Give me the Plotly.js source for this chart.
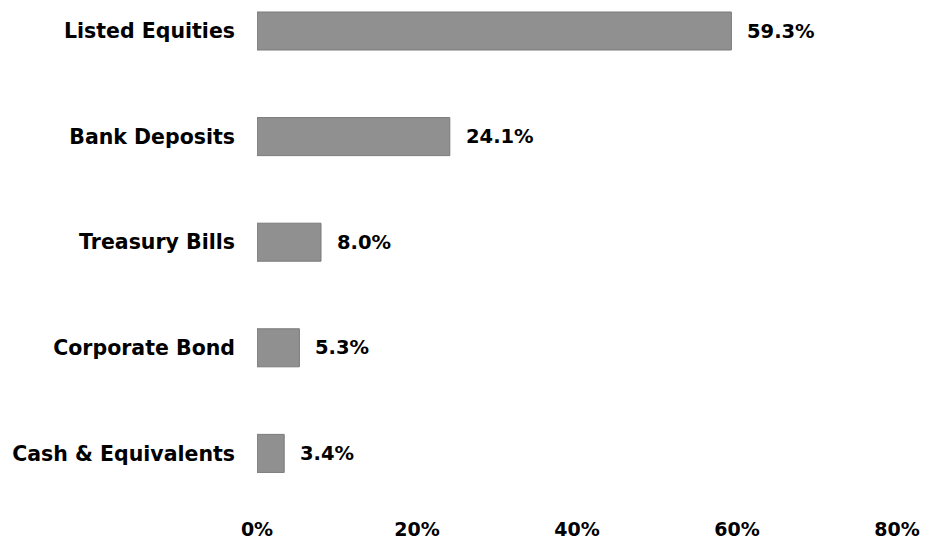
<!DOCTYPE html>
<html>
<head>
<meta charset="utf-8">
<script src="https://cdn.plot.ly/plotly-3.0.1.min.js"></script>
<style>
  html, body { margin: 0; padding: 0; background: #ffffff; }
  #chart { width: 928px; height: 540px; }
</style>
</head>
<body>
<div id="chart"></div>
<script>
// Asset allocation, share of portfolio (%), listed bottom-to-top
const categories = ["Cash & Equivalents", "Corporate Bond", "Treasury Bills", "Bank Deposits", "Listed Equities"];
const shares = [3.4, 5.3, 8.0, 24.1, 59.3];
const tickValues = [0, 20, 40, 60, 80];
const tickLabels = ["0%", "20%", "40%", "60%", "80%"];

const labelFont = { family: "DejaVu Sans", size: 19.5, color: "#000000", weight: "bold" };

const bars = {
  type: "bar",
  orientation: "h",
  x: shares,
  y: categories,
  marker: { color: "#909090", line: { color: "#7a7a7a", width: 1 } },
  hoverinfo: "skip"
};

// value labels placed just past the end of each bar
const valueLabels = shares.map((v, i) => ({
  x: v,
  y: categories[i],
  xref: "x",
  yref: "y",
  text: v.toFixed(1) + "%",
  showarrow: false,
  xanchor: "left",
  yanchor: "middle",
  xshift: 14,
  font: labelFont
}));

const layout = {
  width: 928,
  height: 540,
  margin: { l: 257, r: 31, t: 0, b: 30, pad: 0 },
  paper_bgcolor: "#ffffff",
  plot_bgcolor: "#ffffff",
  showlegend: false,
  bargap: 0.64,
  xaxis: {
    range: [0, 80],
    tickmode: "array",
    tickvals: tickValues,
    ticktext: tickLabels,
    showgrid: false,
    zeroline: false,
    showline: false,
    ticks: "",
    ticklabelstandoff: 6,
    tickfont: { family: "DejaVu Sans", size: 19, color: "#000000", weight: "bold" },
    fixedrange: true
  },
  yaxis: {
    type: "category",
    categoryorder: "array",
    categoryarray: categories,
    range: [-0.536, 4.2936],
    showgrid: false,
    zeroline: false,
    showline: false,
    ticks: "",
    ticklabelstandoff: 21,
    tickfont: { family: "DejaVu Sans", size: 20.5, color: "#000000", weight: "bold" },
    fixedrange: true
  },
  annotations: valueLabels
};

Plotly.newPlot("chart", [bars], layout, { displayModeBar: false, staticPlot: true });
</script>
</body>
</html>
